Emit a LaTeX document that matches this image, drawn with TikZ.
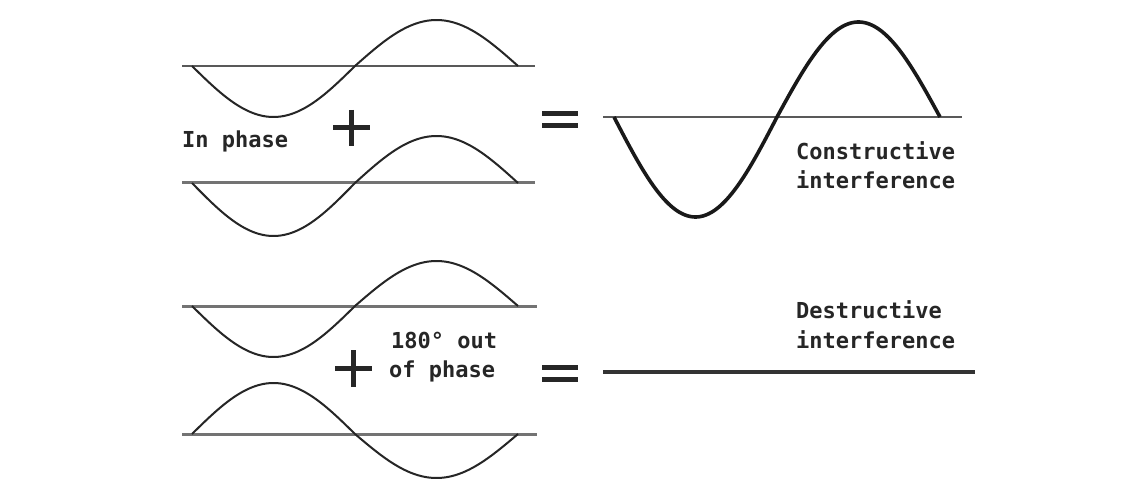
\documentclass[tikz,border=0pt]{standalone}
\usepackage{fontspec}
\newfontfamily\lblfont{DejaVu Sans Mono}
\begin{document}
\begin{tikzpicture}[x=1pt,y=-1pt,
  lbl/.style={font=\lblfont\bfseries\fontsize{22}{28}\selectfont, inner sep=0pt, anchor=base west, text=black!85},
  wave/.style={line width=2pt, draw=black!85, line join=round},
  bigwave/.style={line width=3.6pt, draw=black!90, line join=round},
  axisthin/.style={line width=2pt, draw=black!65},
  axisthick/.style={line width=3pt, draw=black!55},
  opline/.style={line width=5pt, draw=black!85},
  flatline/.style={line width=4.5pt, draw=black!80}]
\useasboundingbox[fill=white] (0,0) rectangle (1148,481);

% ---------- In phase ----------
\draw[axisthin] (182,66) -- (535,66);
\draw[wave] plot[domain=0:180,samples=60,smooth] ({192+\x/360*326},{66+51*sin(\x)})
   -- plot[domain=180:360,samples=60,smooth] ({192+\x/360*326},{66+46*sin(\x)});

\draw[axisthick] (182,183) -- (535,183);
\draw[wave] plot[domain=0:180,samples=60,smooth] ({192+\x/360*326},{183+53*sin(\x)})
   -- plot[domain=180:360,samples=60,smooth] ({192+\x/360*326},{183+47*sin(\x)});

\node[lbl] (inphase) at (182,148) {In phase};
\draw[opline] (333,127.5) -- (370,127.5);
\draw[opline] (351.5,110) -- (351.5,146);
\draw[opline] (542,114) -- (578,114);
\draw[opline] (542,126) -- (578,126);

% constructive result
\draw[axisthin] (603,117) -- (962,117);
\draw[bigwave] plot[domain=0:180,samples=80,smooth] ({614+\x/360*326},{117+100*sin(\x)})
   -- plot[domain=180:360,samples=80,smooth] ({614+\x/360*326},{117+95*sin(\x)});
\node[lbl] (cons1) at (796,160) {Constructive};
\node[lbl] (cons2) at (796,189) {interference};

% ---------- 180 out of phase ----------
\draw[axisthick] (182,306) -- (537,306);
\draw[wave] plot[domain=0:180,samples=60,smooth] ({192+\x/360*326},{306+51*sin(\x)})
   -- plot[domain=180:360,samples=60,smooth] ({192+\x/360*326},{306+45*sin(\x)});

\draw[axisthick] (182,434) -- (537,434);
\draw[wave] plot[domain=0:180,samples=60,smooth] ({192+\x/360*326},{434-51*sin(\x)})
   -- plot[domain=180:360,samples=60,smooth] ({192+\x/360*326},{434-44*sin(\x)});

\draw[opline] (335,368) -- (372,368);
\draw[opline] (353.5,350) -- (353.5,387);
\node[lbl] (out1) at (391,348) {180° out};
\node[lbl] (out2) at (389,377) {of phase};
\draw[opline] (542,367.5) -- (578,367.5);
\draw[opline] (542,379.5) -- (578,379.5);

% destructive result
\draw[flatline] (603,372) -- (975,372);
\node[lbl] (des1) at (796,318) {Destructive};
\node[lbl] (des2) at (796,348) {interference};
\end{tikzpicture}
\end{document}
